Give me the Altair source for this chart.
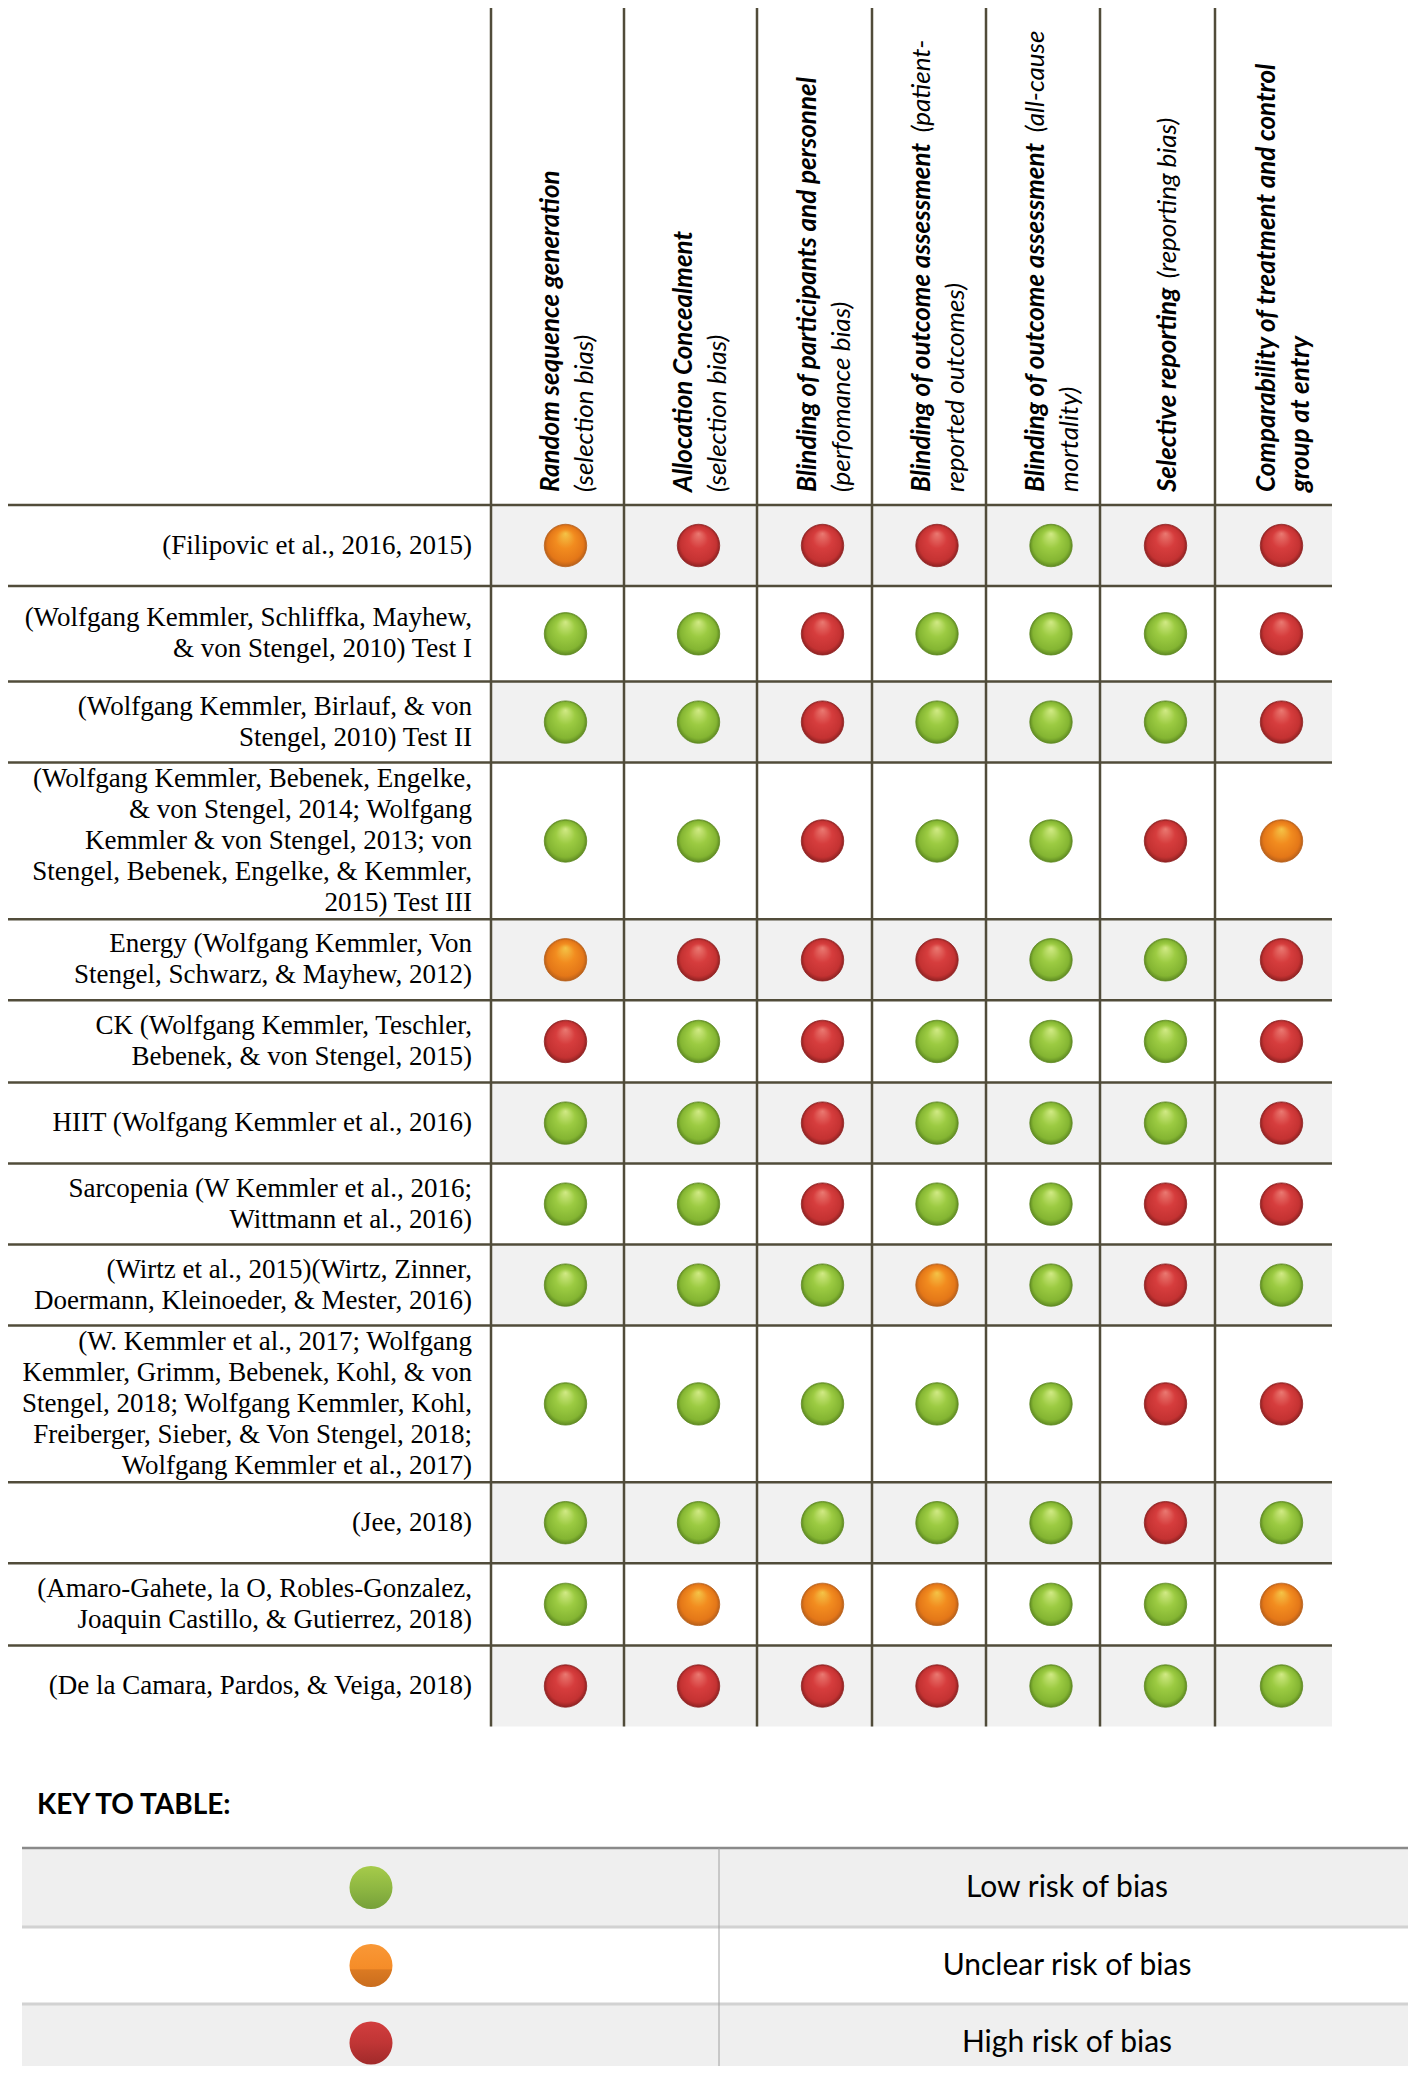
import altair as alt
import pandas as pd

# ---------------- data ----------------
STUDIES = [
    "(Filipovic et al., 2016, 2015)",
    "(Wolfgang Kemmler, Schliffka, Mayhew,\n& von Stengel, 2010) Test I",
    "(Wolfgang Kemmler, Birlauf, & von\nStengel, 2010) Test II",
    "(Wolfgang Kemmler, Bebenek, Engelke,\n& von Stengel, 2014; Wolfgang\nKemmler & von Stengel, 2013; von\nStengel, Bebenek, Engelke, & Kemmler,\n2015) Test III",
    "Energy (Wolfgang Kemmler, Von\nStengel, Schwarz, & Mayhew, 2012)",
    "CK (Wolfgang Kemmler, Teschler,\nBebenek, & von Stengel, 2015)",
    "HIIT (Wolfgang Kemmler et al., 2016)",
    "Sarcopenia (W Kemmler et al., 2016;\nWittmann et al., 2016)",
    "(Wirtz et al., 2015)(Wirtz, Zinner,\nDoermann, Kleinoeder, & Mester, 2016)",
    "(W. Kemmler et al., 2017; Wolfgang\nKemmler, Grimm, Bebenek, Kohl, & von\nStengel, 2018; Wolfgang Kemmler, Kohl,\nFreiberger, Sieber, & Von Stengel, 2018;\nWolfgang Kemmler et al., 2017)",
    "(Jee, 2018)",
    "(Amaro-Gahete, la O, Robles-Gonzalez,\nJoaquin Castillo, & Gutierrez, 2018)",
    "(De la Camara, Pardos, & Veiga, 2018)",
]

# L = low risk, U = unclear risk, H = high risk ; one letter per domain column
RATINGS = [
    "UHHHLHH",
    "LLHLLLH",
    "LLHLLLH",
    "LLHLLHU",
    "UHHHLLH",
    "HLHLLLH",
    "LLHLLLH",
    "LLHLLHH",
    "LLLULHL",
    "LLLLLHH",
    "LLLLLHL",
    "LUUULLU",
    "HHHHLLL",
]

# header lines per domain; each line = list of (text, bold)
HEADER_LINES = [
    [[("Random sequence generation", True)], [("(selection bias)", False)]],
    [[("Allocation Concealment", True)], [("(selection bias)", False)]],
    [[("Blinding of participants and personnel", True)], [("(perfomance bias)", False)]],
    [[("Blinding of outcome assessment", True), ("(patient-", False)], [("reported outcomes)", False)]],
    [[("Blinding of outcome assessment", True), ("(all-cause", False)], [("mortality)", False)]],
    [[("Selective reporting", True), ("(reporting bias)", False)]],
    [[("Comparability of treatment and control", True)], [("group at entry", True)]],
]

RISK_CODES = ["L", "U", "H"]
KEY_LABELS = ["Low risk of bias", "Unclear risk of bias", "High risk of bias"]
KEY_TITLE = "KEY TO TABLE:"

# ---------------- layout / style ----------------
W, H = 1400, 2058
ORIGIN = 8
LABEL_RIGHT = 472
COL_LEFT = 491
COL_WIDTHS = [133, 133, 115, 114, 114, 115, 117]
HEADER_BOTTOM = 505
ROW_HEIGHTS = [81, 95.6, 81, 156.7, 81, 82.3, 81, 81, 81, 156.6, 81, 82.3, 81]
DOT_SHIFT = 8
HEAD_SHIFT = 10
HEAD_LINE_SP = 34
HEAD_START = 492
HEAD_SIZE = 26
SEG_GAP = 7
LABEL_SIZE = 27
LINE_H = 31
GRID = "#514c3a"
ROW_GRAY = "#f1f1f1"

KEY_TITLE_X, KEY_TITLE_Y = 37, 1814
KEY_TOP = 1848
KEY_ROWS = [79, 77, 78]
KEY_LEFT, KEY_RIGHT = 22, 1420
KEY_DIV = 719
KEY_DOT_X = 371
KEY_TEXT_X = 1067

LATO_BI = {" ": .19, "a": .52, "b": .56, "c": .46, "d": .56, "e": .53, "f": .33,
           "g": .52, "h": .57, "i": .25, "l": .25, "m": .86, "n": .57, "o": .56,
           "p": .56, "r": .38, "s": .43, "t": .36, "u": .57, "v": .51, "y": .51,
           "B": .64, "S": .52, "C": .65, "R": .62, "A": .66, "(": .30, "-": .33}
WIDTH_FIX = 0.965


def est_width(text, size):
    return sum(LATO_BI.get(ch, .55) for ch in text) * size * WIDTH_FIX


col_edges = [COL_LEFT]
for w in COL_WIDTHS:
    col_edges.append(col_edges[-1] + w)
row_edges = [HEADER_BOTTOM]
for h in ROW_HEIGHTS:
    row_edges.append(row_edges[-1] + h)
TABLE_RIGHT = col_edges[-1]
TABLE_BOTTOM = row_edges[-1]

XS = alt.Scale(domain=[ORIGIN, ORIGIN + W], nice=False, zero=False)
YS = alt.Scale(domain=[ORIGIN, ORIGIN + H], nice=False, zero=False, reverse=True)


def X(f):
    return alt.X(f, type="quantitative", scale=XS, axis=None)


def Y(f):
    return alt.Y(f, type="quantitative", scale=YS, axis=None)


# ---------------- backgrounds ----------------
rects = []
for i in range(len(STUDIES)):
    if i % 2 == 0:
        rects.append(dict(x=col_edges[0], x2=TABLE_RIGHT, y=row_edges[i], y2=row_edges[i + 1], c=ROW_GRAY))
ky = [KEY_TOP]
for h in KEY_ROWS:
    ky.append(ky[-1] + h)
for i in range(3):
    rects.append(dict(x=KEY_LEFT, x2=KEY_RIGHT, y=ky[i], y2=ky[i + 1],
                      c="#efefef" if i != 1 else "#ffffff"))
bg = alt.Chart(pd.DataFrame(rects)).mark_rect().encode(
    x=X("x"), x2="x2", y=Y("y"), y2="y2", color=alt.Color("c:N", scale=None))

# ---------------- grid lines ----------------
rules = []
for xe in col_edges[:-1]:
    rules.append(dict(x=xe, x2=xe, y=0, y2=TABLE_BOTTOM, c=GRID, w=2.5))
for ye in row_edges[:-1]:
    rules.append(dict(x=0, x2=TABLE_RIGHT, y=ye, y2=ye, c=GRID, w=2.5))
rules.append(dict(x=KEY_LEFT, x2=KEY_RIGHT, y=ky[0], y2=ky[0], c="#8a8a8a", w=2.5))
for ye in ky[1:3]:
    rules.append(dict(x=KEY_LEFT, x2=KEY_RIGHT, y=ye, y2=ye, c="#d2d2d2", w=3))
rules.append(dict(x=KEY_DIV, x2=KEY_DIV, y=ky[0], y2=ky[3], c="#a0a0a0", w=1))
grid = alt.Chart(pd.DataFrame(rules)).mark_rule().encode(
    x=X("x"), x2="x2", y=Y("y"), y2="y2",
    color=alt.Color("c:N", scale=None), strokeWidth=alt.StrokeWidth("w:Q", scale=None))

# ---------------- dots ----------------
dots = []
for i, r in enumerate(RATINGS):
    for j, code in enumerate(r):
        dots.append(dict(x=(col_edges[j] + col_edges[j + 1]) / 2 + DOT_SHIFT,
                         y=(row_edges[i] + row_edges[i + 1]) / 2, code=code))
dots_df = pd.DataFrame(dots)

GLOSS = {
    "L": ("#d2ea86", "#9ccb42", "#84b532", "#5f8a22"),
    "U": ("#f4c447", "#f28c1f", "#e47718", "#b8601a"),
    "H": ("#ea7a72", "#d63d3d", "#c43232", "#8f2222"),
}
FLAT = {
    "L": [("#a6cb4a", 0), ("#8fb842", 0.5), ("#76a03a", 1)],
    "U": [("#f99836", 0), ("#f58c28", 0.58), ("#db7a22", 0.6), ("#c96d1e", 1)],
    "H": [("#d23e3e", 0), ("#c03535", 0.5), ("#a02a2a", 1)],
}


def radial(light, base, dark, edge):
    return {"gradient": "radial", "x1": 0.5, "y1": 0.22, "r1": 0.0,
            "x2": 0.5, "y2": 0.5, "r2": 0.5,
            "stops": [{"offset": 0, "color": light}, {"offset": 0.45, "color": base},
                      {"offset": 0.85, "color": dark}, {"offset": 1, "color": edge}]}


def linear(stops):
    return {"gradient": "linear", "x1": 0, "y1": 0, "x2": 0, "y2": 1,
            "stops": [{"offset": o, "color": c} for c, o in stops]}


dot_layers = []
for code in RISK_CODES:
    light, base, dark, edge = GLOSS[code]
    dot_layers.append(
        alt.Chart(dots_df).transform_filter(alt.datum.code == code).mark_point(
            shape="circle", filled=True, size=1800, opacity=1,
            fill=radial(light, base, dark, edge), stroke=edge, strokeWidth=1, strokeOpacity=0.8
        ).encode(x=X("x"), y=Y("y"))
    )

key_dots_df = pd.DataFrame([dict(x=KEY_DOT_X, y=(ky[i] + ky[i + 1]) / 2, code=c)
                            for i, c in enumerate(RISK_CODES)])
for code in RISK_CODES:
    dot_layers.append(
        alt.Chart(key_dots_df).transform_filter(alt.datum.code == code).mark_point(
            shape="circle", filled=True, size=1850, opacity=1, fill=linear(FLAT[code])
        ).encode(x=X("x"), y=Y("y"))
    )

# ---------------- text ----------------
lab_rows = []
for i, s in enumerate(STUDIES):
    n = s.count("\n") + 1
    cy = (row_edges[i] + row_edges[i + 1]) / 2
    lab_rows.append(dict(x=LABEL_RIGHT, y=cy - (n - 1) / 2 * LINE_H, t=s))
labels = alt.Chart(pd.DataFrame(lab_rows)).mark_text(
    align="right", baseline="middle", font="Liberation Serif", fontSize=LABEL_SIZE,
    lineBreak="\n", lineHeight=LINE_H, color="#000000"
).encode(x=X("x"), y=Y("y"), text="t:N")

heads = []
for j, lines in enumerate(HEADER_LINES):
    cx = (col_edges[j] + col_edges[j + 1]) / 2 + HEAD_SHIFT
    n = len(lines)
    for k, segs in enumerate(lines):
        lx = cx + (k - (n - 1) / 2) * HEAD_LINE_SP
        y = HEAD_START
        for text, bold in segs:
            heads.append(dict(x=lx, y=y, t=text, b="bold" if bold else "normal"))
            y -= est_width(text, HEAD_SIZE) + SEG_GAP
heads_df = pd.DataFrame(heads)
head_layers = []
for weight in ["bold", "normal"]:
    head_layers.append(
        alt.Chart(heads_df).transform_filter(alt.datum.b == weight).mark_text(
            angle=270, align="left", baseline="middle", font="Lato", fontSize=HEAD_SIZE,
            fontStyle="italic", fontWeight=weight, color="#000000"
        ).encode(x=X("x"), y=Y("y"), text="t:N")
    )

key_title = alt.Chart(pd.DataFrame([dict(x=KEY_TITLE_X, y=KEY_TITLE_Y, t=KEY_TITLE)])).mark_text(
    align="left", baseline="alphabetic", font="Lato", fontSize=28, fontWeight="bold", color="#000000"
).encode(x=X("x"), y=Y("y"), text="t:N")

key_text = alt.Chart(pd.DataFrame([dict(x=KEY_TEXT_X, y=(ky[i] + ky[i + 1]) / 2, t=s)
                                   for i, s in enumerate(KEY_LABELS)])).mark_text(
    align="center", baseline="middle", font="Lato", fontSize=30, color="#000000"
).encode(x=X("x"), y=Y("y"), text="t:N")

chart = alt.layer(bg, grid, *dot_layers, labels, *head_layers, key_title, key_text).properties(
    width=W, height=H, padding=0, autosize=alt.AutoSizeParams(type="none"), background="#ffffff"
).configure_view(strokeWidth=0)

chart.save("out.html", embed_options={"renderer": "svg", "actions": False})
